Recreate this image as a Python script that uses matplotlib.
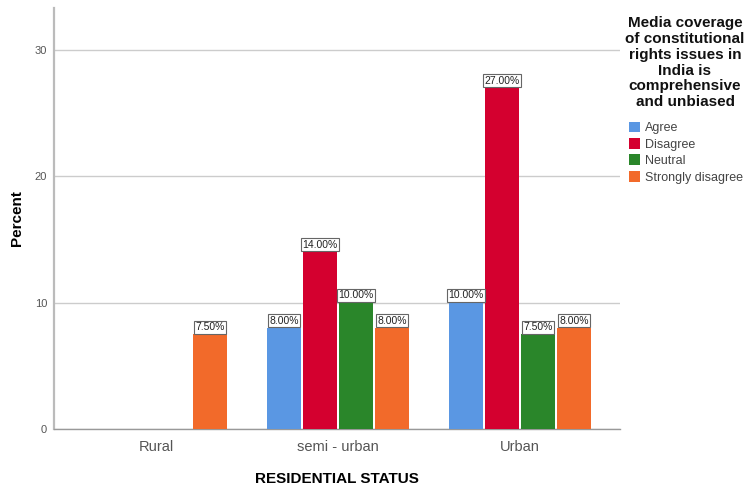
import numpy as np
from matplotlib import pyplot as plt

# Percent of respondents by residential status and opinion
categories = ["Rural", "semi - urban", "Urban"]
responses = ["Agree", "Disagree", "Neutral", "Strongly disagree"]
agree = [np.nan, 8.0, 10.0]
disagree = [np.nan, 14.0, 27.0]
neutral = [np.nan, 10.0, 7.5]
strongly_disagree = [7.5, 8.0, 8.0]
legend_title = ("Media coverage\nof constitutional\nrights issues in\n"
                "India is\ncomprehensive\nand unbiased")

series = [agree, disagree, neutral, strongly_disagree]
colors = ["#5A97E3", "#D4002F", "#2A862A", "#F26A2A"]

plt.rcParams['font.family'] = ['Liberation Sans', 'DejaVu Sans']

W, H = 747, 487
fig = plt.figure(figsize=(W / 100, H / 100), dpi=100)
ax = fig.add_axes([54 / W, 1 - 429 / H, 566 / W, 421 / H])

x = np.arange(len(categories))
width = 0.187
step = 0.198
offsets = (np.arange(len(series)) - 1.5) * step

for vals, off, col, name in zip(series, offsets, colors, responses):
    vals = np.array(vals, dtype=float)
    ax.bar(x + off, vals, width, color=col, label=name, zorder=3)
    for xi, v in zip(x + off, vals):
        if np.isnan(v):
            continue
        ax.annotate("{:.2f}%".format(v), (xi, v), xytext=(0, 1.5),
                    textcoords="offset points", ha="center", va="bottom",
                    fontsize=7.5, color="#222222", zorder=4,
                    bbox=dict(boxstyle="square,pad=0.15", fc="white",
                              ec="#666666", lw=0.8))

ax.set_xlim(-0.56, 2.55)
ax.set_ylim(0, 33.3)
ax.set_yticks([0, 10, 20, 30])
ax.set_xticks(x)
ax.set_xticklabels(categories)
ax.tick_params(axis='x', length=0, labelsize=10.5, colors="#555555", pad=8)
ax.tick_params(axis='y', length=0, labelsize=8, colors="#555555", pad=5)
ax.yaxis.grid(True, color="#cccccc", lw=1, zorder=0)

for s in ["top", "right"]:
    ax.spines[s].set_visible(False)
ax.spines["left"].set_color("#bbbbbb")
ax.spines["left"].set_linewidth(1.6)
ax.spines["bottom"].set_color("#999999")
ax.spines["bottom"].set_linewidth(1.0)

ax.set_ylabel("Percent", fontsize=11, fontweight="bold", labelpad=8)
ax.set_xlabel("RESIDENTIAL STATUS", fontsize=11, fontweight="bold",
              labelpad=13)

# legend title drawn separately so its line spacing can be set
fig.text(685 / W, 1 - 16 / H, legend_title, ha="center", va="top",
         fontsize=11, fontweight="bold", linespacing=1.17, color="#111111")
leg = fig.legend(loc="upper left", bbox_to_anchor=(626 / W, 1 - 119 / H),
                 frameon=False, fontsize=9, handlelength=0.95,
                 handleheight=0.95, handletextpad=0.35, labelspacing=0.3,
                 borderaxespad=0, borderpad=0.2)
for t in leg.get_texts():
    t.set_color("#444444")

fig.savefig("out.png", dpi=100)
